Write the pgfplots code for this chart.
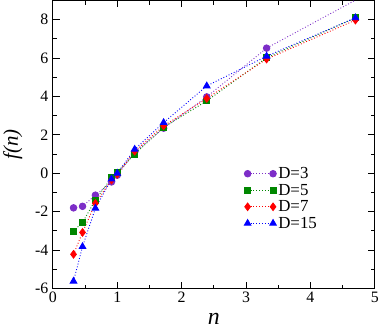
\documentclass[border=0pt]{standalone}
\usepackage{fontspec}
\setmainfont{Liberation Serif}
\usepackage{pgfplots}
\pgfplotsset{compat=1.18}
\definecolor{cviolet}{RGB}{125,45,200}
\definecolor{cgreen}{RGB}{0,135,0}
\definecolor{cred}{RGB}{255,0,0}
\definecolor{cblue}{RGB}{0,0,255}

\begin{document}
\begin{tikzpicture}
\begin{axis}[
scale only axis,width=323bp,height=289bp,
xmin=0,xmax=5,ymin=-6,ymax=9,
xtick={0,1,2,3,4,5},ytick={-6,-4,-2,0,2,4,6,8},
xticklabels={0,1,2,3,4,5},yticklabels={-6,-4,-2,0,2,4,6,8},
minor x tick num=1,minor y tick num=1,
tick align=inside,
major tick length=7pt,minor tick length=4pt,
axis line style={line width=1.1pt},
every tick/.style={line width=1pt,black},
tick label style={font=\rmfamily\fontsize{16}{16}\selectfont},
yticklabel style={xshift=-1pt},
xlabel={\fontsize{24}{24}\selectfont\itshape n\strut},
ylabel={\fontsize{21}{21}\selectfont\itshape f(n)},
xlabel style={yshift=2pt},
ylabel style={yshift=6pt},
legend style={draw=none,fill=none,at={(0.585,0.435)},anchor=north west,
  font=\rmfamily\fontsize{17}{17}\selectfont,row sep=0pt},
legend cell align=left,
legend image code/.code={
  \draw[#1] plot coordinates {(0cm,0cm) (0.9cm,0cm)};},
every axis plot/.append style={dotted,line width=0.9pt},
]
\addplot[color=cviolet,mark=*,mark size=3.3pt,mark options={solid}] coordinates {
(0.32,-1.80) (0.46,-1.72) (0.66,-1.14) (0.91,-0.45) (1.0,-0.10)
(1.27,1.10) (1.72,2.35) (2.39,3.98) (3.32,6.52) (4.70,9.02)};
\addplot[color=cgreen,mark=square*,mark size=3pt,mark options={solid}] coordinates {
(0.32,-3.01) (0.46,-2.56) (0.66,-1.39) (0.91,-0.23) (1.0,0.06)
(1.27,0.99) (1.72,2.40) (2.39,3.77) (3.32,6.02) (4.70,8.10)};
\addplot[color=cred,mark=diamond*,mark size=3.8pt,mark options={solid}] coordinates {
(0.32,-4.22) (0.46,-3.08) (0.66,-1.57) (0.91,-0.35) (1.0,-0.05)
(1.27,1.15) (1.72,2.47) (2.39,3.90) (3.32,5.95) (4.70,7.98)};
\addplot[color=cblue,mark=triangle*,mark size=3.8pt,mark options={solid}] coordinates {
(0.32,-5.62) (0.46,-3.82) (0.66,-1.82) (0.91,-0.30) (1.0,0.00)
(1.27,1.25) (1.72,2.64) (2.39,4.55) (3.32,6.10) (4.70,8.10)};
\legend{D=3,D=5,D=7,D=15}
\end{axis}
\end{tikzpicture}
\end{document}
